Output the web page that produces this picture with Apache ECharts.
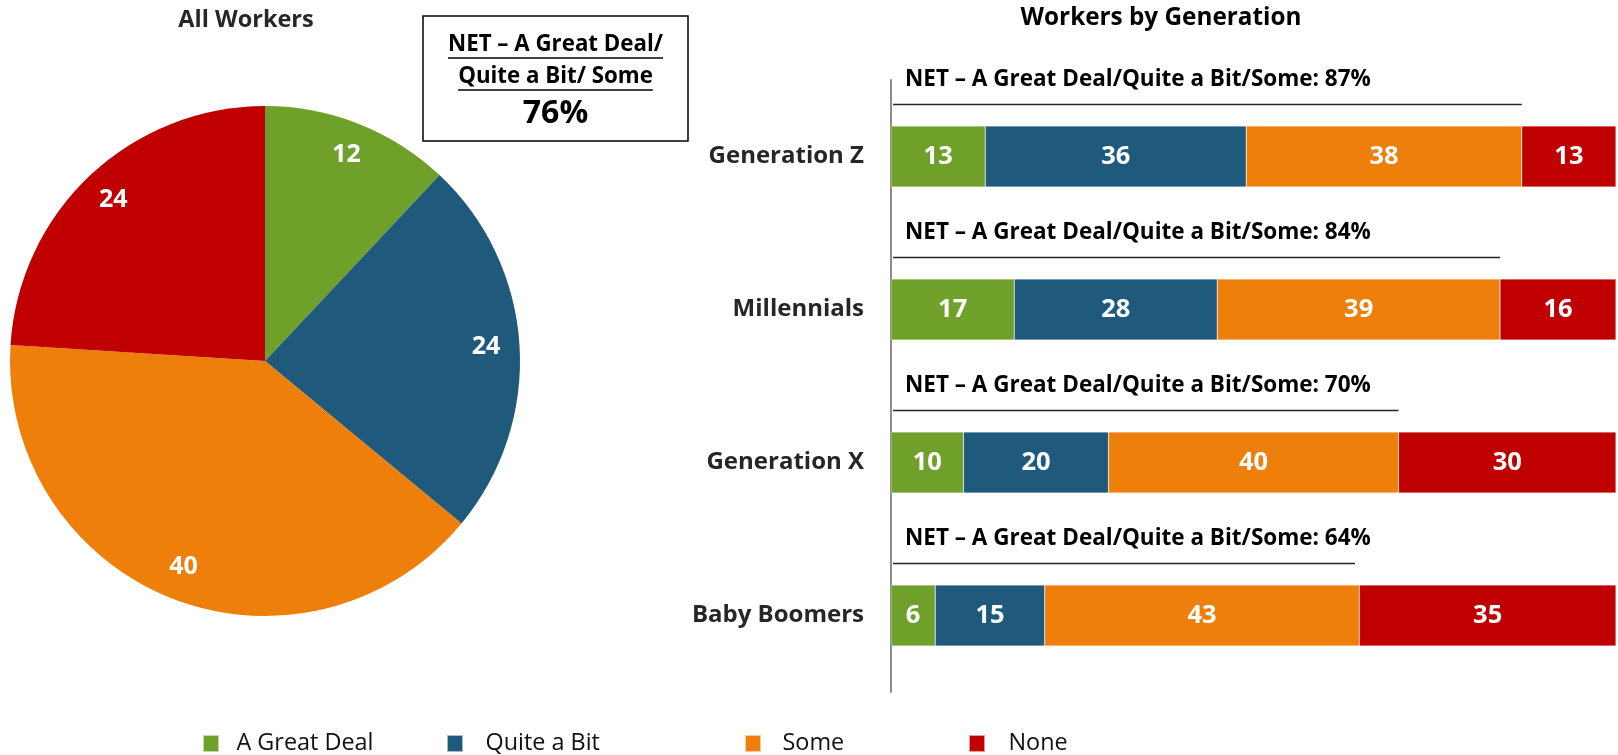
<!DOCTYPE html>
<html><head><meta charset="utf-8">
<script src="https://cdn.jsdelivr.net/npm/echarts@6/dist/echarts.min.js"></script>
<style>html,body{margin:0;padding:0;background:#fff}#c{width:1618px;height:755px}</style>
</head><body><div id="c"></div>
<script>
const FONT = '"Open Sans", "Noto Sans", sans-serif';
// ---- data ----
const seriesNames = ['A Great Deal', 'Quite a Bit', 'Some', 'None'];
const colors = ['#6FA12A', '#1F5A7D', '#EF7F0B', '#C00000'];
const pieValues = [12, 24, 40, 24];
const allWorkersNet = 76;
const generations = ['Generation Z', 'Millennials', 'Generation X', 'Baby Boomers'];
const greatDeal = [13, 17, 10, 6.1];
const quiteABit = [36, 28, 20, 15.1];
const some = [38, 39, 40, 43.4];
const none = [13, 16, 30, 35.4];
const netValues = [87, 84, 70, 64];
const barData = [greatDeal, quiteABit, some, none];

// ---- helpers ----
const cv = document.createElement('canvas').getContext('2d');
function tw(txt, font) { cv.font = font; return cv.measureText(txt).width; }

const chart = echarts.init(document.getElementById('c'), null, {renderer: 'canvas'});

const boxL = 423, boxR = 688, boxT = 16, boxB = 141, boxCx = (boxL + boxR) / 2;
const boxFont = 'bold 22.3px ' + FONT;
const line1 = 'NET \u2013 A Great Deal/', line2 = 'Quite a Bit/ Some';
const w1 = tw(line1, boxFont), w2 = tw(line2, boxFont);

const barSeries = seriesNames.map((n, i) => ({
  name: n, type: 'bar', stack: 'gen', barWidth: '40%',
  data: barData[i],
  itemStyle: {color: colors[i], borderColor: 'rgba(255,255,255,0.6)', borderWidth: 0.5},
  label: {show: true, position: 'inside', color: '#fff', fontFamily: FONT, fontWeight: 'bold', fontSize: 25.5,
    formatter: p => Math.round(p.value)},
  xAxisIndex: 0, yAxisIndex: 0
}));

const legendLeft = [197, 441, 739, 963];
const legendGap = [12.5, 17.5, 16.5, 18.5];

const option = {
  animation: false,
  backgroundColor: '#fff',
  grid: {left: 891, right: 2, top: 80, bottom: 63},
  xAxis: {type: 'value', min: 0, max: 100, show: false},
  yAxis: {type: 'category', data: generations, inverse: true,
    axisLine: {show: true, lineStyle: {color: '#8c8c8c', width: 2}},
    axisTick: {show: false},
    axisLabel: {color: '#262626', fontFamily: FONT, fontWeight: 'bold', fontSize: 24, margin: 27}},
  legend: seriesNames.map((n, i) => ({
    data: [n], left: legendLeft[i], top: 727, itemWidth: 16, itemHeight: 17, icon: 'rect',
    selectedMode: false,
    textStyle: {fontFamily: FONT, fontSize: 23.4, color: '#111', padding: [2, 0, 0, legendGap[i]]}
  })),
  graphic: [
    {type: 'text', x: 246, y: 20, style: {text: 'All Workers', font: 'bold 23.5px ' + FONT, fill: '#262626', align: 'center', verticalAlign: 'middle'}},
    {type: 'text', x: 1161, y: 18, style: {text: 'Workers by Generation', font: 'bold 24.3px ' + FONT, fill: '#000', align: 'center', verticalAlign: 'middle'}},
    {type: 'rect', shape: {x: boxL, y: boxT, width: boxR - boxL, height: boxB - boxT}, style: {fill: '#fff', stroke: '#000', lineWidth: 1.5}},
    {type: 'text', x: boxCx, y: 44.5, style: {text: line1, font: boxFont, fill: '#000', align: 'center', verticalAlign: 'middle'}},
    {type: 'line', shape: {x1: boxCx - w1 / 2, y1: 58, x2: boxCx + w1 / 2, y2: 58}, style: {stroke: '#000', lineWidth: 1.3}},
    {type: 'text', x: boxCx, y: 76.5, style: {text: line2, font: boxFont, fill: '#000', align: 'center', verticalAlign: 'middle'}},
    {type: 'line', shape: {x1: boxCx - w2 / 2, y1: 90, x2: boxCx + w2 / 2, y2: 90}, style: {stroke: '#000', lineWidth: 1.3}},
    {type: 'text', x: boxCx, y: 113.5, style: {text: allWorkersNet + '%', font: 'bold 32px ' + FONT, fill: '#000', align: 'center', verticalAlign: 'middle'}}
  ],
  series: [
    {
      name: 'All Workers', type: 'pie', center: [265, 361], radius: [0, 255], startAngle: 90, clockwise: true,
      label: {show: false}, labelLine: {show: false}, silent: true,
      data: pieValues.map((v, i) => ({name: seriesNames[i], value: v, itemStyle: {color: colors[i]}}))
    },
    {
      name: 'All Workers labels', type: 'pie', center: [265, 361], radius: [182, 255], startAngle: 90, clockwise: true,
      silent: true, labelLine: {show: false},
      label: {show: true, position: 'inside', color: '#fff', fontFamily: FONT, fontWeight: 'bold', fontSize: 25, formatter: p => p.value},
      itemStyle: {color: 'rgba(0,0,0,0)'},
      data: pieValues.map((v, i) => ({name: seriesNames[i], value: v}))
    },
    ...barSeries,
    {
      type: 'custom', silent: true, z: 5,
      data: netValues.map((v, i) => [v, i]),
      encode: {x: 0, y: 1},
      renderItem: (params, api) => {
        const idx = api.value(1), net = api.value(0);
        const p0 = api.coord([0, idx]), p1 = api.coord([net, idx]);
        return {type: 'group', children: [
          {type: 'line', shape: {x1: p0[0] + 2, y1: p0[1] - 52, x2: p1[0], y2: p1[1] - 52}, style: {stroke: '#262626', lineWidth: 1.5}},
          {type: 'text', x: p0[0] + 14, y: p0[1] - 77, style: {text: 'NET \u2013 A Great Deal/Quite a Bit/Some: ' + net + '%', font: 'bold 22.5px ' + FONT, fill: '#000', verticalAlign: 'middle'}}
        ]};
      }
    }
  ]
};
chart.setOption(option);
</script>
</body></html>
